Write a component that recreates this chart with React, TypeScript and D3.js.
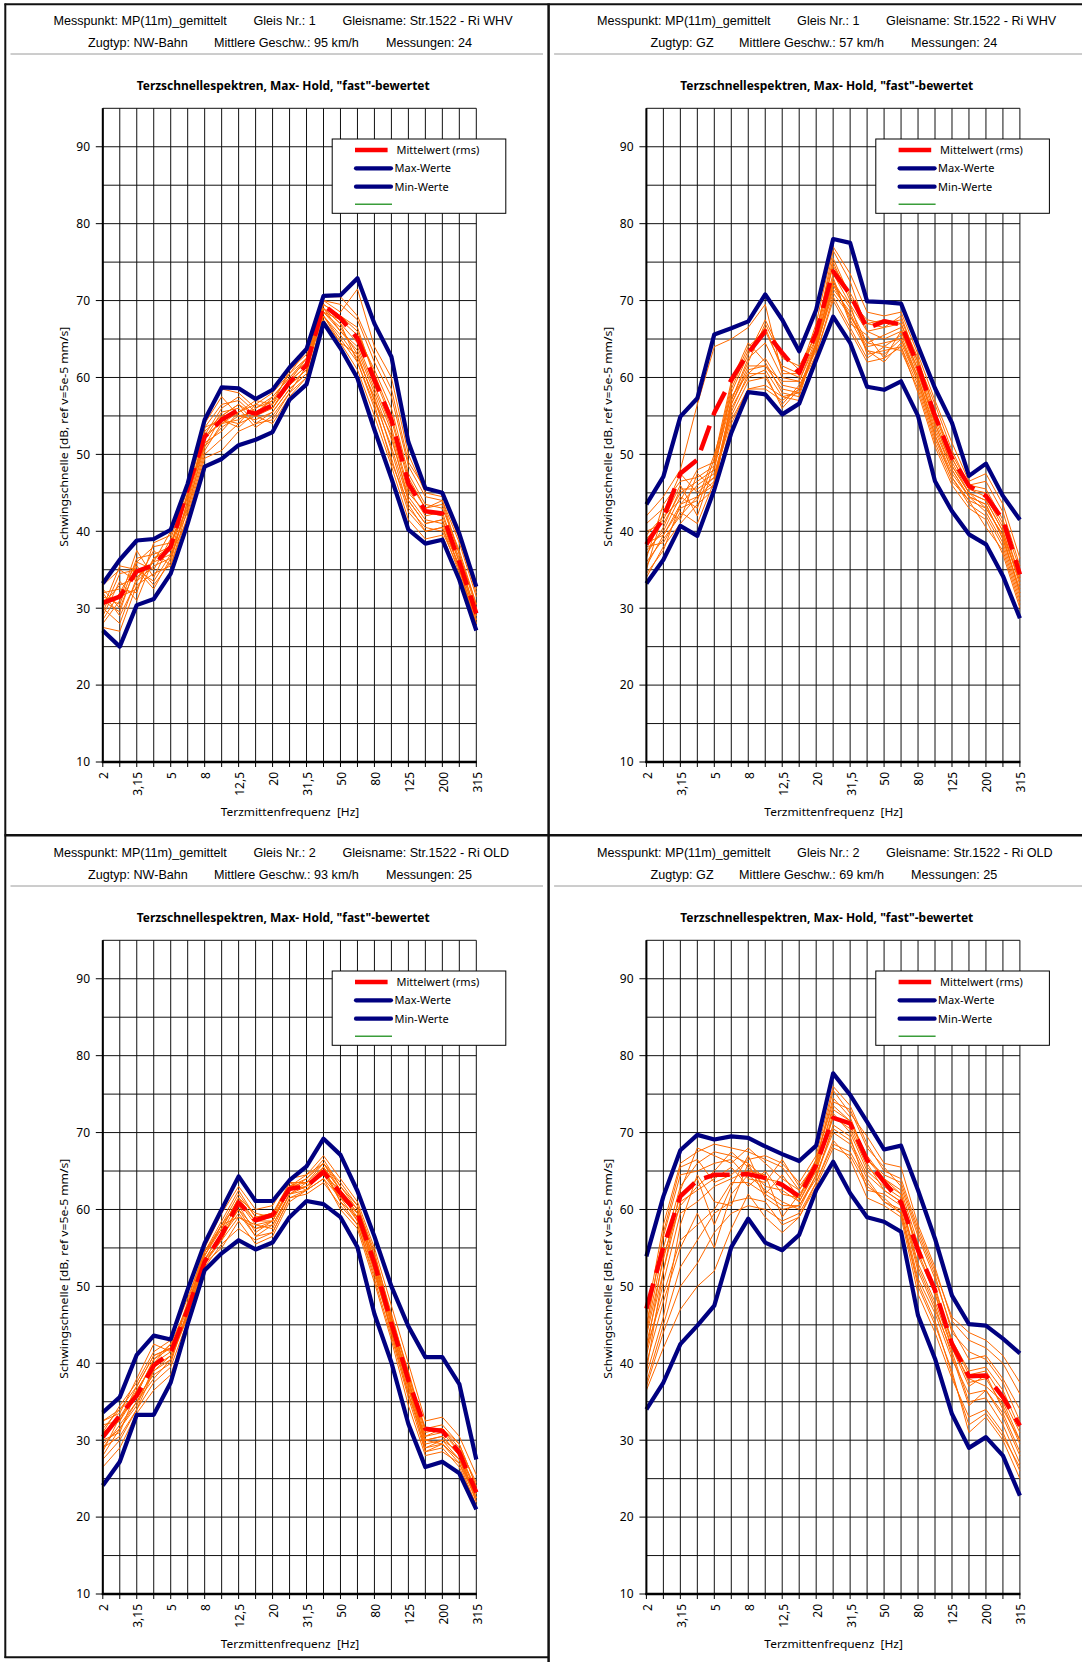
import React from 'react';
import * as d3 from 'd3';

// ---------- data ----------
const FREQS = ["2","2,5","3,15","4","5","6,3","8","10","12,5","16","20","25","31,5","40","50","63","80","100","125","160","200","250","315"];
const Y_TICKS = [10, 20, 30, 40, 50, 60, 70, 80, 90];
const Y_GRID = [15, 20, 25, 30, 35, 40, 45, 50, 55, 60, 65, 70, 75, 80, 85, 90, 95];
const LEGEND_LABELS = ["Mittelwert (rms)", "Max-Werte", "Min-Werte", ""];
const TITLE = 'Terzschnellespektren, Max- Hold, "fast"-bewertet';
const X_TITLE = "Terzmittenfrequenz  [Hz]";
const Y_TITLE = "Schwingschnelle [dB, ref v=5e-5 mm/s]";

const HEAD_1_L1 = ["Messpunkt: MP(11m)_gemittelt", "Gleis Nr.: 1", "Gleisname: Str.1522 - Ri WHV"];
const HEAD_1_L2 = ["Zugtyp: NW-Bahn", "Mittlere Geschw.: 95 km/h", "Messungen: 24"];
const HEAD_2_L1 = ["Messpunkt: MP(11m)_gemittelt", "Gleis Nr.: 1", "Gleisname: Str.1522 - Ri WHV"];
const HEAD_2_L2 = ["Zugtyp: GZ", "Mittlere Geschw.: 57 km/h", "Messungen: 24"];
const HEAD_3_L1 = ["Messpunkt: MP(11m)_gemittelt", "Gleis Nr.: 2", "Gleisname: Str.1522 - Ri OLD"];
const HEAD_3_L2 = ["Zugtyp: NW-Bahn", "Mittlere Geschw.: 93 km/h", "Messungen: 25"];
const HEAD_4_L1 = ["Messpunkt: MP(11m)_gemittelt", "Gleis Nr.: 2", "Gleisname: Str.1522 - Ri OLD"];
const HEAD_4_L2 = ["Zugtyp: GZ", "Mittlere Geschw.: 69 km/h", "Messungen: 25"];

// Panel 1
const MEAN_1 = [30.7,31.5,34.8,35.6,38.0,45.5,52.3,54.5,55.8,55.3,56.4,59.4,61.6,69.4,67.7,65.1,59.7,54.5,46.2,42.6,42.3,36.0,29.3];
const MAX_1 = [33.2,36.3,38.8,39.0,40.2,46.2,54.5,58.7,58.6,57.2,58.4,61.3,63.7,70.6,70.7,72.9,67.0,62.7,51.6,45.6,45.0,39.7,32.8];
const MIN_1 = [27.1,25.0,30.4,31.2,34.5,41.0,48.4,49.4,51.2,51.9,52.9,57.1,59.1,67.1,63.8,59.9,53.2,46.9,40.2,38.4,38.9,33.7,27.1];
const SINGLES_1 = [
  [32.5,30.0,35.5,33.0,36.0,44.0,53.0,55.0,56.5,55.0,56.0,59.5,61.5,69.5,68.0,66.0,60.5,55.0,47.0,43.0,43.5,37.0,30.0],
  [29.0,33.5,31.0,36.5,37.5,42.5,50.5,54.0,54.5,56.0,57.5,60.0,62.0,68.5,66.5,63.0,57.0,51.0,44.0,41.0,41.5,35.0,28.5],
  [31.0,29.5,36.0,35.0,39.0,45.5,54.0,57.5,55.0,54.5,55.5,58.5,60.5,70.0,69.5,67.5,62.0,57.5,48.5,44.5,44.0,38.5,31.5],
  [33.0,35.0,33.5,37.5,35.5,43.0,51.5,53.0,55.5,57.0,56.5,61.0,63.0,68.0,65.0,62.0,56.0,49.5,42.5,40.0,40.5,34.5,28.0],
  [28.0,31.0,37.5,34.0,38.5,44.5,52.5,56.0,57.5,55.5,57.0,59.0,61.0,69.0,67.0,64.5,59.0,53.5,45.5,42.0,42.5,36.0,29.5],
  [30.0,28.0,34.0,36.0,37.0,41.5,49.5,50.5,53.0,54.0,54.5,58.0,60.0,67.5,64.5,61.0,55.0,48.5,41.5,39.0,39.5,34.0,27.5],
  [32.0,32.5,32.0,38.5,39.5,46.0,53.5,54.5,54.0,56.5,58.0,60.5,62.5,70.0,68.5,71.5,64.0,60.0,50.0,45.0,44.5,39.0,32.0],
  [29.5,34.5,35.0,32.5,36.5,43.5,52.0,55.5,56.0,53.5,55.0,58.0,61.5,69.0,66.0,63.5,58.0,52.0,44.5,41.5,41.0,35.5,29.0],
  [31.5,30.5,36.5,37.0,38.0,45.0,51.0,53.5,55.0,55.5,56.0,59.5,62.5,68.5,67.5,65.5,61.0,56.0,47.5,43.5,43.0,37.5,30.5],
  [27.5,27.0,33.0,34.5,35.5,42.0,50.0,52.0,54.0,55.0,54.0,57.5,60.0,68.0,65.5,62.5,57.5,50.5,43.0,40.5,40.0,35.0,28.0],
  [30.5,33.0,34.0,36.0,40.0,46.0,54.5,58.5,58.0,56.0,57.0,60.5,63.5,70.5,70.5,68.0,63.0,58.5,49.0,45.5,45.0,39.5,32.5],
  [32.0,29.0,33.5,35.5,36.5,44.0,52.5,54.0,55.5,56.5,56.0,59.0,61.0,68.5,66.0,64.0,58.5,53.0,45.0,42.5,42.0,36.5,29.0],
  [28.5,32.0,36.0,38.0,38.5,43.0,51.0,55.0,56.5,54.0,55.5,58.5,60.5,69.0,67.0,62.0,56.5,49.0,43.5,40.0,40.5,35.5,27.5],
  [30.0,35.5,35.0,33.5,37.0,45.0,53.5,56.5,57.0,55.0,57.5,60.0,62.5,69.5,68.0,66.5,60.0,54.5,46.5,43.0,44.0,37.0,30.5],
  [31.0,31.5,32.5,36.5,38.0,44.5,52.0,54.5,53.5,55.5,56.5,59.5,61.5,68.0,64.5,63.0,57.0,52.5,44.0,41.0,41.5,36.0,28.5],
];

// Panel 2
const MEAN_2 = [38.3,41.7,47.5,49.3,55.4,59.7,63.2,66.0,63.2,60.6,65.8,73.8,70.8,66.4,67.3,66.9,61.5,55.0,49.5,45.9,44.6,41.5,34.4];
const MAX_2 = [43.5,47.1,54.9,57.3,65.6,66.4,67.3,70.8,67.5,63.4,68.8,78.0,77.5,69.9,69.8,69.6,64.1,58.6,54.1,47.2,48.8,44.6,41.5];
const MIN_2 = [33.2,36.3,40.7,39.4,45.4,52.8,58.1,57.8,55.2,56.6,62.3,67.9,64.5,58.8,58.4,59.5,55.0,46.5,42.6,39.6,38.3,34.2,28.7];
const SINGLES_2 = [
  [36.0,39.0,42.0,44.5,46.0,56.0,60.0,61.0,57.5,58.0,64.0,71.0,68.0,64.0,64.5,65.0,60.0,53.0,48.0,44.5,43.5,39.0,32.0],
  [39.0,41.5,46.0,42.0,48.5,58.5,63.5,66.5,61.0,60.0,66.0,74.5,71.0,67.0,67.5,67.0,61.5,55.0,49.5,45.5,45.0,41.0,34.0],
  [34.5,37.5,43.5,46.0,47.5,55.0,59.5,60.0,56.5,59.0,63.5,72.0,69.5,63.0,63.5,64.0,59.0,52.0,47.0,43.5,42.0,38.0,31.0],
  [41.0,43.0,41.5,47.5,45.5,57.0,62.0,67.0,62.5,61.5,65.5,76.5,72.5,66.0,66.5,68.0,62.0,56.5,50.5,46.0,46.5,42.5,35.5],
  [37.5,40.0,44.5,43.0,49.5,59.5,64.5,62.0,58.0,57.5,64.5,73.0,67.0,65.5,62.5,66.0,60.5,54.0,48.5,45.0,44.0,40.0,33.0],
  [35.0,42.5,47.5,45.0,47.0,54.5,58.5,58.5,57.0,58.5,63.0,70.5,66.5,62.5,64.0,63.5,58.5,51.5,46.5,44.0,40.5,37.5,30.5],
  [42.0,44.5,48.0,56.5,64.0,65.0,66.5,69.5,60.5,60.5,67.0,77.0,73.5,68.5,68.0,68.5,63.0,57.0,51.5,46.5,47.5,43.5,36.5],
  [38.0,38.5,42.5,41.0,46.5,56.5,61.0,61.5,59.5,59.5,64.5,72.5,69.0,64.5,65.5,66.5,61.0,54.5,49.0,45.0,43.0,39.5,33.5],
  [40.0,41.0,45.0,46.5,48.0,58.0,63.0,67.5,63.0,61.0,65.0,75.0,70.0,67.5,67.0,67.5,62.5,55.5,50.0,46.0,45.5,41.5,35.0],
  [35.5,39.5,43.0,44.0,50.0,57.5,60.5,60.5,56.0,58.5,64.0,71.5,68.5,63.5,62.0,64.5,59.5,52.5,47.5,44.5,42.5,38.5,31.5],
  [37.0,40.5,45.5,45.5,47.0,56.5,61.5,61.5,58.5,58.0,64.0,72.0,68.0,64.5,64.0,65.5,60.0,53.5,48.0,44.5,43.5,39.0,32.5],
  [39.5,42.0,44.0,48.0,49.0,59.0,64.0,66.0,61.5,60.5,66.0,75.5,70.5,67.0,66.5,67.0,62.0,55.5,49.5,45.5,44.5,40.5,34.0],
  [34.0,38.0,41.0,43.5,45.5,54.0,58.5,59.0,57.5,57.0,63.0,70.0,66.0,62.0,62.5,64.0,58.0,51.0,46.0,43.0,41.5,37.0,30.0],
  [36.5,43.5,46.5,47.0,48.5,57.0,62.5,64.5,60.0,59.5,65.0,73.5,69.5,66.0,65.0,66.0,61.0,54.0,48.5,45.0,44.0,40.0,33.5],
  [38.5,39.5,43.5,44.5,46.5,55.5,60.5,62.5,59.0,58.5,64.5,72.5,67.5,63.5,63.0,65.0,59.5,52.5,47.0,44.0,43.0,39.5,32.0],
];

// Panel 3
const MEAN_3 = [30.4,33.2,35.8,39.7,41.4,47.0,53.2,56.7,60.9,58.6,59.3,62.7,63.0,64.9,62.1,59.5,53.0,45.2,37.8,31.5,31.2,28.4,23.2];
const MAX_3 = [33.6,35.6,41.1,43.6,43.1,49.6,55.6,60.0,64.3,61.1,61.1,63.8,65.6,69.2,67.1,62.4,56.5,50.0,44.8,40.8,40.8,37.3,27.5];
const MIN_3 = [24.1,27.2,33.3,33.3,37.5,45.1,52.1,54.3,56.0,54.8,55.7,59.0,61.1,60.7,59.0,55.1,46.4,40.1,32.1,26.5,27.2,25.7,21.0];
const SINGLES_3 = [
  [29.0,32.0,35.0,39.0,40.5,46.5,53.5,57.0,60.0,57.5,58.5,62.5,63.0,65.0,62.0,59.0,52.5,45.0,37.0,30.0,30.5,28.0,22.5],
  [31.5,34.0,37.0,41.0,42.0,47.5,54.5,58.5,62.5,59.0,59.5,63.0,64.0,66.5,63.0,60.0,54.0,46.5,38.5,31.5,32.0,29.5,24.0],
  [27.5,30.0,34.0,37.5,39.5,45.5,52.5,55.5,57.5,56.0,57.0,61.5,62.0,63.5,60.5,58.0,51.0,43.5,35.5,28.5,29.0,26.5,21.5],
  [32.5,33.5,38.0,42.5,41.5,48.0,55.0,59.5,63.0,60.0,60.5,64.0,64.5,67.0,64.0,61.0,55.0,47.5,40.0,32.5,33.0,30.5,25.5],
  [30.0,31.0,36.5,40.0,42.5,46.0,53.0,56.5,59.5,56.5,58.0,62.0,63.5,64.5,61.5,59.5,53.5,45.5,37.5,29.5,30.0,27.5,23.0],
  [28.5,33.0,35.5,38.5,40.0,47.0,54.0,58.0,61.0,58.5,59.0,63.5,62.5,65.5,62.5,58.5,52.0,44.5,36.5,30.5,31.0,28.5,22.0],
  [26.5,29.0,33.5,36.5,38.5,45.0,53.0,55.0,58.5,55.5,56.5,61.0,62.5,64.0,60.0,57.5,50.5,43.0,34.5,28.0,28.5,27.0,21.5],
  [31.0,34.5,37.5,41.5,43.0,48.5,54.5,57.5,61.5,59.5,59.0,62.5,64.0,66.0,63.5,60.5,54.5,46.0,39.0,31.0,31.5,29.0,24.5],
  [29.5,31.5,34.5,39.5,41.0,46.5,53.5,56.0,60.5,57.0,58.5,63.0,63.5,65.5,61.0,59.0,53.0,45.0,38.0,29.0,30.0,28.5,23.5],
  [32.0,32.5,36.0,40.5,42.0,47.0,54.0,58.0,59.0,58.0,57.5,62.0,63.0,64.5,62.5,59.5,52.5,44.0,36.0,30.0,29.5,27.5,22.5],
  [30.5,33.0,36.5,40.0,41.5,46.5,53.5,57.0,61.0,58.0,58.5,62.5,63.0,65.5,62.5,59.5,53.5,45.5,37.5,31.5,31.5,28.5,23.0],
  [28.0,31.5,35.0,38.0,40.5,46.0,53.0,56.0,59.0,57.5,58.0,62.0,62.5,64.0,61.5,58.5,52.0,44.0,36.0,29.0,29.5,27.5,22.0],
  [31.0,32.5,37.0,41.0,42.0,47.5,54.5,58.0,62.0,59.0,59.5,63.5,63.5,66.0,63.0,60.5,54.0,46.0,38.5,30.5,31.5,29.5,24.0],
  [29.0,30.5,34.0,39.0,41.0,46.0,53.0,56.5,60.0,56.5,57.0,61.5,62.5,65.0,61.0,58.0,51.5,44.5,37.0,28.5,29.5,27.0,22.5],
  [32.5,34.0,36.0,40.5,42.5,47.5,54.0,57.5,61.5,58.5,58.5,63.0,64.5,66.0,62.5,60.0,53.0,45.5,38.0,30.0,30.5,28.0,23.5],
];

// Panel 4
const MEAN_4 = [47.1,55.1,61.7,63.8,64.5,64.5,64.6,64.1,63.2,61.7,65.8,71.9,71.2,66.4,63.6,60.9,54.7,49.5,42.5,38.3,38.4,35.6,31.9];
const MAX_4 = [53.9,61.7,67.7,69.7,69.1,69.5,69.3,68.2,67.2,66.3,68.3,77.7,74.9,71.4,67.8,68.3,62.5,56.2,48.8,45.1,44.9,43.2,41.3];
const MIN_4 = [34.0,37.5,42.5,44.9,47.5,55.1,58.8,55.7,54.7,56.7,62.5,66.2,62.1,59.0,58.4,57.1,46.2,40.6,33.4,29.0,30.4,28.0,22.8];
const SINGLES_4 = [
  [44.0,55.0,63.0,66.0,67.5,67.0,66.0,64.0,63.5,61.0,65.0,72.0,71.0,66.0,62.5,61.0,53.0,48.0,42.0,38.0,37.0,35.0,30.0],
  [40.0,48.0,55.0,59.5,55.0,62.0,64.5,62.5,61.0,60.0,64.5,70.0,68.5,64.0,61.0,60.0,51.0,46.5,40.5,36.0,36.5,33.0,28.0],
  [46.0,58.0,66.0,67.5,68.5,68.0,67.5,66.5,65.5,62.5,66.5,74.0,73.0,68.0,65.5,63.0,56.5,51.0,44.5,40.5,41.0,38.0,34.0],
  [37.0,44.0,50.0,53.0,57.0,59.5,60.5,60.0,58.5,59.5,63.5,69.0,66.5,61.5,60.5,59.0,49.0,44.0,38.0,33.0,34.0,31.0,26.0],
  [42.5,52.0,61.0,62.5,64.0,65.5,63.0,65.0,62.0,61.5,65.5,73.5,71.5,67.0,64.0,62.0,54.5,49.0,43.0,39.0,39.5,36.5,31.5],
  [38.5,46.0,58.0,64.5,61.0,60.5,66.0,61.5,60.0,60.5,64.0,71.0,69.5,62.5,62.0,60.5,52.0,47.0,41.5,35.0,35.5,32.0,27.0],
  [45.0,56.5,64.5,65.0,66.0,66.5,64.0,63.5,66.5,63.0,66.0,75.5,72.5,69.5,66.0,65.5,58.0,52.5,45.5,43.0,42.0,40.0,36.0],
  [36.5,42.0,47.0,50.0,52.0,57.5,62.0,59.0,57.0,59.0,63.0,68.0,67.0,63.0,61.5,59.5,50.0,45.0,39.0,31.0,33.0,30.0,25.0],
  [41.0,50.5,59.5,61.0,63.0,64.0,65.0,64.5,59.0,62.0,65.0,72.5,70.0,65.0,63.0,61.5,55.0,50.0,42.5,37.5,38.0,34.5,29.5],
  [43.5,53.5,62.0,64.0,58.0,63.0,67.0,62.0,64.5,61.5,66.5,74.5,72.0,66.5,64.5,63.5,57.0,51.5,44.0,41.5,40.5,37.5,32.5],
  [39.0,52.0,62.5,68.0,67.0,66.0,68.0,66.0,64.0,62.5,66.0,73.0,71.5,66.5,64.0,62.5,55.5,49.5,43.0,38.5,39.0,35.5,31.0],
  [42.0,49.0,56.0,58.0,60.0,63.5,63.5,62.0,60.5,60.5,64.5,70.5,69.0,64.5,62.5,61.0,52.5,47.5,41.0,34.5,36.5,33.5,28.5],
  [44.5,57.0,65.5,66.5,63.5,64.5,66.5,67.0,66.0,63.5,67.0,76.0,73.5,68.5,65.0,64.0,57.5,52.0,46.0,44.0,43.0,41.0,37.5],
  [37.5,45.0,52.5,56.0,59.5,61.0,61.5,61.0,58.0,59.0,63.5,68.5,67.5,63.5,61.0,59.5,50.5,45.5,38.5,32.0,33.5,30.5,26.5],
  [41.5,54.0,60.5,63.0,65.0,67.5,65.5,63.0,62.5,61.0,65.5,72.0,70.5,65.5,63.5,62.0,54.0,49.0,42.0,37.0,38.5,34.0,30.0],
];

// ---------- layout ----------
const W = 1082, H = 1662;
const PANEL_DX = 543.6, PANEL_DY = 832;
const PLOT = { left: 102.8, right: 476.3, top: 108.3, bottom: 762 };
const Y_DOMAIN: [number, number] = [10, 95];
const H1_X = [53.5, 253.5, 342.5];
const H2_X_NW = [88, 214, 386];
const H2_X_GZ = [107, 195.5, 367.5];

const C_NAVY = '#000080';
const C_RED = '#FF0000';
const C_ORANGE = '#FF6A00';
const C_GREEN = '#3A9D3A';

const HEAD_FONT = '"Liberation Sans", Arial, sans-serif';
const BODY_FONT = '"Noto Sans", "Open Sans", sans-serif';

const PANELS = [
  { ox: 0, oy: 0, l1: HEAD_1_L1, l2: HEAD_1_L2, l2x: H2_X_NW, mean: MEAN_1, max: MAX_1, min: MIN_1, singles: SINGLES_1 },
  { ox: PANEL_DX, oy: 0, l1: HEAD_2_L1, l2: HEAD_2_L2, l2x: H2_X_GZ, mean: MEAN_2, max: MAX_2, min: MIN_2, singles: SINGLES_2 },
  { ox: 0, oy: PANEL_DY, l1: HEAD_3_L1, l2: HEAD_3_L2, l2x: H2_X_NW, mean: MEAN_3, max: MAX_3, min: MIN_3, singles: SINGLES_3 },
  { ox: PANEL_DX, oy: PANEL_DY, l1: HEAD_4_L1, l2: HEAD_4_L2, l2x: H2_X_GZ, mean: MEAN_4, max: MAX_4, min: MIN_4, singles: SINGLES_4 },
];

type PanelProps = typeof PANELS[number] & { sepLeft: number; sepRight: number };

function Panel(p: PanelProps) {
  const x = d3.scalePoint<string>().domain(FREQS).range([PLOT.left, PLOT.right]);
  const y = d3.scaleLinear().domain(Y_DOMAIN).range([PLOT.bottom, PLOT.top]);
  const line = d3.line<number>().x((_, i) => x(FREQS[i]) as number).y(d => y(d));

  const legX = 332.2, legY = 139, legW = 173.6, legH = 74.3;
  const legRows = [150, 168.3, 186.7, 204.3];

  return (
    <g transform={`translate(${p.ox},${p.oy})`}>
      {/* header */}
      <g fontFamily={HEAD_FONT} fontSize={12.6} fill="#000">
        {p.l1.map((t, i) => (
          <text key={'a' + i} x={H1_X[i]} y={25.2}>{t}</text>
        ))}
        {p.l2.map((t, i) => (
          <text key={'b' + i} x={p.l2x[i]} y={47.2}>{t}</text>
        ))}
      </g>
      <line x1={p.sepLeft} x2={p.sepRight} y1={54} y2={54} stroke="#9a9a9a" strokeWidth={1} />
      {/* title */}
      <text x={283.2} y={90.4} textAnchor="middle" fontFamily={BODY_FONT} fontWeight="bold" fontSize={12}
        textLength={293} lengthAdjust="spacingAndGlyphs">{TITLE}</text>

      {/* grid */}
      <g>
        {Y_GRID.map(v => (
          <line key={'h' + v} x1={PLOT.left} x2={PLOT.right} y1={y(v)} y2={y(v)} stroke="#111" strokeWidth={1} />
        ))}
        {FREQS.map(f => (
          <line key={'v' + f} x1={x(f)} x2={x(f)} y1={PLOT.top} y2={PLOT.bottom} stroke="#111" strokeWidth={1} />
        ))}
      </g>

      {/* single measurements */}
      <g fill="none" stroke={C_ORANGE} strokeWidth={1} strokeLinejoin="round">
        {p.singles.map((s, i) => <path key={i} d={line(s) as string} />)}
      </g>
      {/* mean */}
      <path d={line(p.mean) as string} fill="none" stroke={C_RED} strokeWidth={4.5} strokeDasharray="26,11" strokeLinejoin="round" />
      {/* max / min */}
      <path d={line(p.max) as string} fill="none" stroke={C_NAVY} strokeWidth={4.2} strokeLinejoin="round" />
      <path d={line(p.min) as string} fill="none" stroke={C_NAVY} strokeWidth={4.2} strokeLinejoin="round" />

      {/* axes */}
      <line x1={PLOT.left} x2={PLOT.left} y1={PLOT.top} y2={PLOT.bottom + 1} stroke="#000" strokeWidth={2} />
      <line x1={PLOT.left - 1} x2={PLOT.right + 0.5} y1={PLOT.bottom} y2={PLOT.bottom} stroke="#000" strokeWidth={2.5} />
      {Y_TICKS.map(v => (
        <g key={'yt' + v}>
          <line x1={PLOT.left - 7} x2={PLOT.left} y1={y(v)} y2={y(v)} stroke="#000" strokeWidth={1} />
          <text x={90} y={y(v)} dy="0.36em" textAnchor="end" fontFamily={BODY_FONT} fontSize={12}>{v}</text>
        </g>
      ))}
      {FREQS.map((f, i) => (
        <g key={'xt' + f}>
          <line x1={x(f)} x2={x(f)} y1={PLOT.bottom} y2={PLOT.bottom + 5} stroke="#000" strokeWidth={1} />
          {i % 2 === 0 && (
            <text transform={`translate(${x(f)},${PLOT.bottom + 10}) rotate(-90)`} dy="0.45em" textAnchor="end"
              fontFamily={BODY_FONT} fontSize={12}>{f}</text>
          )}
        </g>
      ))}
      <text x={290} y={815.8} textAnchor="middle" fontFamily={BODY_FONT} fontSize={11.5}
        textLength={138.5} lengthAdjust="spacingAndGlyphs" xmlSpace="preserve">{X_TITLE}</text>
      <text transform={`translate(64.2,436.7) rotate(-90)`} dy="0.35em" textAnchor="middle" fontFamily={BODY_FONT}
        fontSize={11.5} textLength={220} lengthAdjust="spacingAndGlyphs">{Y_TITLE}</text>

      {/* legend */}
      <rect x={legX} y={legY} width={legW} height={legH} fill="#fff" stroke="#000" strokeWidth={1} />
      <line x1={355} x2={387.6} y1={legRows[0]} y2={legRows[0]} stroke={C_RED} strokeWidth={4.5} />
      <line x1={356} x2={391} y1={legRows[1]} y2={legRows[1]} stroke={C_NAVY} strokeWidth={4.2} strokeLinecap="round" />
      <line x1={356} x2={391} y1={legRows[2]} y2={legRows[2]} stroke={C_NAVY} strokeWidth={4.2} strokeLinecap="round" />
      <line x1={355} x2={392} y1={legRows[3]} y2={legRows[3]} stroke={C_GREEN} strokeWidth={1.5} />
      {LEGEND_LABELS.map((t, i) => (
        <text key={'lg' + i} x={i === 0 ? 396.5 : 394.5} y={legRows[i]} dy="0.36em" fontFamily={BODY_FONT} fontSize={11}>{t}</text>
      ))}
    </g>
  );
}

export default function App() {
  return (
    <svg width={W} height={H} viewBox={`0 0 ${W} ${H}`}
      style={{ position: 'absolute', left: 0, top: 0, display: 'block', background: '#fff' }}>
      <rect x={0} y={0} width={W} height={H} fill="#fff" />
      {PANELS.map((p, i) => (
        <Panel key={i} {...p}
          sepLeft={10.5}
          sepRight={i % 2 === 0 ? 543 : W - p.ox} />
      ))}
      {/* frame */}
      <g stroke="#111" fill="none">
        <line x1={4.5} x2={W} y1={4.3} y2={4.3} strokeWidth={2} />
        <line x1={5.3} x2={5.3} y1={3.5} y2={1658} strokeWidth={2} />
        <line x1={548.6} x2={548.6} y1={3.5} y2={H} strokeWidth={2.5} />
        <line x1={4.5} x2={W} y1={835.3} y2={835.3} strokeWidth={2.5} />
        <line x1={4.5} x2={549} y1={1657.2} y2={1657.2} strokeWidth={2} />
      </g>
    </svg>
  );
}
